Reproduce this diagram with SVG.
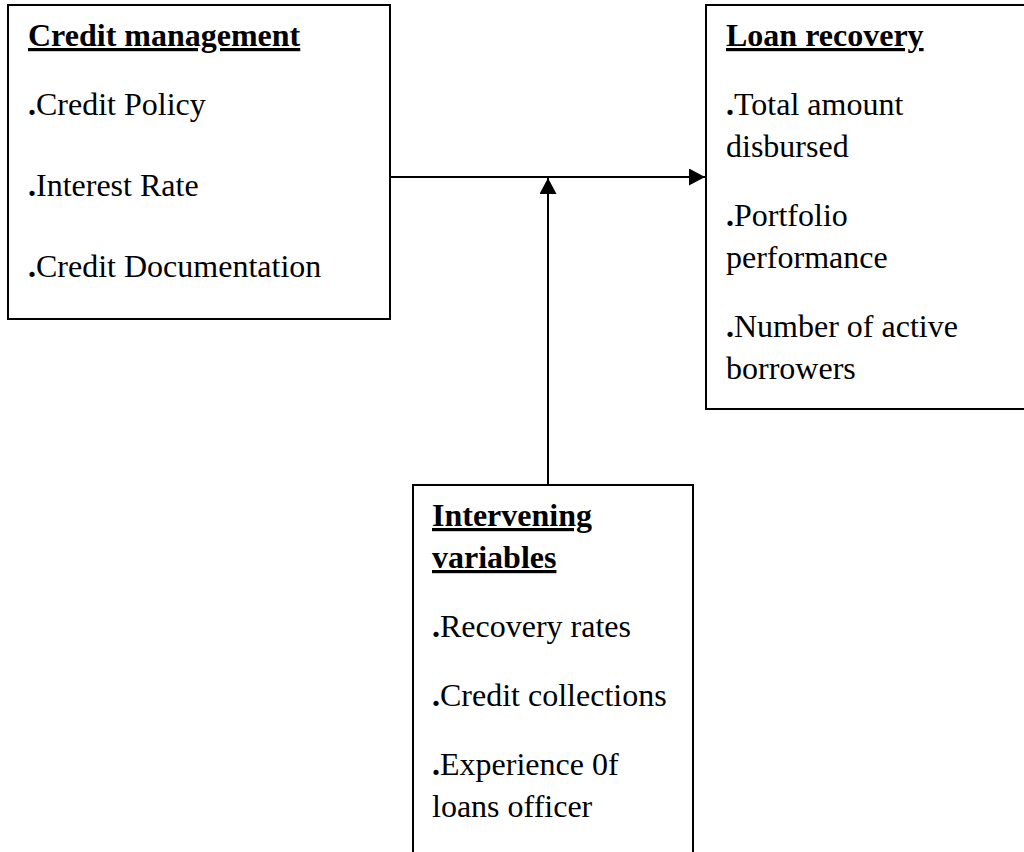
<svg xmlns="http://www.w3.org/2000/svg" width="1024" height="852" viewBox="0 0 1024 852">
<style>
.box{fill:#fff;stroke:#000;stroke-width:2}
text{font-family:"Liberation Serif","Times New Roman",serif;font-size:32px;fill:#000}
.h{font-weight:bold;text-decoration:underline}
.b{font-weight:bold}
.c{stroke:#000;stroke-width:2;fill:none}
</style>
<defs>
<marker id="ah" viewBox="0 0 16 17" refX="16" refY="8.5" markerWidth="16" markerHeight="17" markerUnits="userSpaceOnUse" orient="auto">
<path d="M0,0 L16,8.5 L0,17 Z" fill="#000"/>
</marker>
</defs>
<rect width="1024" height="852" fill="#fff"/>
<g id="credit-management">
<rect class="box" x="8" y="5" width="382" height="314"/>
<text class="h" x="28" y="46">Credit management</text>
<text x="28" y="115"><tspan class="b">.</tspan>Credit Policy</text>
<text x="28" y="196"><tspan class="b">.</tspan>Interest Rate</text>
<text x="28" y="277"><tspan class="b">.</tspan>Credit Documentation</text>
</g>
<g id="loan-recovery">
<rect class="box" x="706" y="5" width="330" height="404"/>
<text class="h" x="726" y="46">Loan recovery</text>
<text x="726" y="115"><tspan class="b">.</tspan>Total amount</text>
<text x="726" y="157">disbursed</text>
<text x="726" y="226"><tspan class="b">.</tspan>Portfolio</text>
<text x="726" y="268">performance</text>
<text x="726" y="337"><tspan class="b">.</tspan>Number of active</text>
<text x="726" y="379">borrowers</text>
</g>
<g id="intervening-variables">
<rect class="box" x="413" y="485" width="280" height="380"/>
<text class="h" x="432" y="526">Intervening</text>
<text class="h" x="432" y="568">variables</text>
<text x="432" y="637"><tspan class="b">.</tspan>Recovery rates</text>
<text x="432" y="706"><tspan class="b">.</tspan>Credit collections</text>
<text x="432" y="775"><tspan class="b">.</tspan>Experience 0f</text>
<text x="432" y="817">loans officer</text>
</g>
<g id="connectors">
<line class="c" x1="390" y1="177" x2="705" y2="177" marker-end="url(#ah)"/>
<line class="c" x1="548" y1="485" x2="548" y2="178" marker-end="url(#ah)"/>
</g>
</svg>
